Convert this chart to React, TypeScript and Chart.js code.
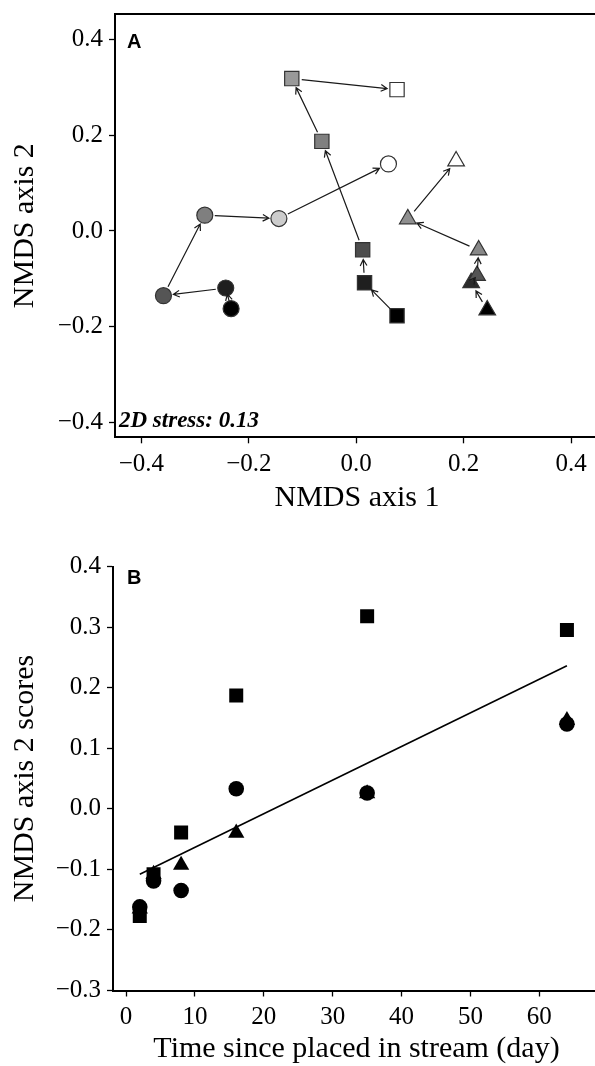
import { useEffect, useRef } from 'react';
import { Chart, registerables } from 'chart.js';

Chart.register(...registerables);

// ---- data ----
const days = [2, 4, 8, 16, 35, 64];
const circleAxis1 = [-0.233, -0.243, -0.359, -0.282, -0.144, 0.06];
const circleAxis2 = [-0.162, -0.119, -0.135, 0.033, 0.026, 0.14];
const squareAxis1 = [0.076, 0.0155, 0.012, -0.064, -0.12, 0.076];
const squareAxis2 = [-0.177, -0.108, -0.039, 0.187, 0.318, 0.295];
const triangleAxis1 = [0.244, 0.214, 0.225, 0.228, 0.096, 0.186];
const triangleAxis2 = [-0.165, -0.108, -0.093, -0.04, 0.025, 0.146];
const fitDays = [2, 64];
const fitScores = [-0.108, 0.236];

const axisATicks = [-0.4, -0.2, 0, 0.2, 0.4];
const scoreTicks = [-0.3, -0.2, -0.1, 0, 0.1, 0.2, 0.3, 0.4];
const dayTicks = [0, 10, 20, 30, 40, 50, 60];

const circleFill = ['#000000', '#1f1f1f', '#555555', '#7f7f7f', '#cccccc', '#ffffff'];
const squareFill = ['#000000', '#1f1f1f', '#4d4d4d', '#808080', '#999999', '#ffffff'];
const triangleFill = ['#000000', '#2b2b2b', '#555555', '#888888', '#8f8f8f', '#ffffff'];

const SERIF = '"Liberation Serif", "Times New Roman", serif';
const tickFont = { family: SERIF, size: 25 };
const titleFont = { family: SERIF, size: 30, lineHeight: 1.1 };

const fmt1 = (v: number) => (v < 0 ? '\u2212' + Math.abs(v).toFixed(1) : v.toFixed(1));

const pts = (xs: number[], ys: number[]) => xs.map((x, i) => ({ x, y: ys[i] }));

const arrowPlugin = {
  id: 'arrowsA',
  afterDatasetsDraw(chart: any) {
    const { ctx } = chart;
    const xs = chart.scales.x;
    const ys = chart.scales.y;
    const series = [
      [circleAxis1, circleAxis2],
      [squareAxis1, squareAxis2],
      [triangleAxis1, triangleAxis2],
    ];
    ctx.save();
    ctx.strokeStyle = '#1a1a1a';
    ctx.lineWidth = 1.2;
    for (const [a1, a2] of series) {
      for (let i = 0; i < a1.length - 1; i++) {
        const x0 = xs.getPixelForValue(a1[i]);
        const y0 = ys.getPixelForValue(a2[i]);
        const x1 = xs.getPixelForValue(a1[i + 1]);
        const y1 = ys.getPixelForValue(a2[i + 1]);
        const dx = x1 - x0;
        const dy = y1 - y0;
        const d = Math.hypot(dx, dy);
        const ux = dx / d;
        const uy = dy / d;
        const g = Math.min(10, d * 0.3);
        const sx = x0 + ux * g;
        const sy = y0 + uy * g;
        const ex = x1 - ux * g;
        const ey = y1 - uy * g;
        ctx.beginPath();
        ctx.moveTo(sx, sy);
        ctx.lineTo(ex, ey);
        const ang = Math.atan2(uy, ux);
        const hl = 7;
        const ha = 0.5;
        ctx.moveTo(ex - hl * Math.cos(ang - ha), ey - hl * Math.sin(ang - ha));
        ctx.lineTo(ex, ey);
        ctx.lineTo(ex - hl * Math.cos(ang + ha), ey - hl * Math.sin(ang + ha));
        ctx.stroke();
      }
    }
    ctx.restore();
  },
};

const frameAPlugin = {
  id: 'frameA',
  afterDraw(chart: any) {
    const { ctx, chartArea } = chart;
    ctx.save();
    ctx.strokeStyle = '#000';
    ctx.lineWidth = 2;
    ctx.beginPath();
    ctx.moveTo(chartArea.left - 1, chartArea.top);
    ctx.lineTo(chartArea.right, chartArea.top);
    ctx.lineTo(chartArea.right, chartArea.bottom);
    ctx.stroke();
    ctx.fillStyle = '#000';
    ctx.textBaseline = 'alphabetic';
    ctx.textAlign = 'left';
    ctx.font = 'bold 20px "Liberation Sans", Arial, sans-serif';
    ctx.fillText('A', 127, 48);
    ctx.font = 'italic bold 23px "Liberation Serif", serif';
    ctx.fillText('2D stress: 0.13', 119, 427);
    ctx.restore();
  },
};

const labelBPlugin = {
  id: 'labelB',
  afterDraw(chart: any) {
    const { ctx } = chart;
    ctx.save();
    ctx.fillStyle = '#000';
    ctx.textBaseline = 'alphabetic';
    ctx.textAlign = 'left';
    ctx.font = 'bold 20px "Liberation Sans", Arial, sans-serif';
    ctx.fillText('B', 127, 64);
    ctx.restore();
  },
};

const commonGrid = { drawOnChartArea: false, drawTicks: true, tickLength: 6, color: '#000', tickWidth: 1.3 };
const commonBorder = { display: true, color: '#000', width: 2 };

export default function App() {
  const refA = useRef<HTMLCanvasElement>(null);
  const refB = useRef<HTMLCanvasElement>(null);

  useEffect(() => {
    const markerBorder = '#333333';
    const chartA = new Chart(refA.current as HTMLCanvasElement, {
      type: 'scatter',
      data: {
        datasets: [
          {
            label: 'circles',
            data: pts(circleAxis1, circleAxis2),
            pointStyle: 'circle',
            pointRadius: 8,
            pointBackgroundColor: circleFill,
            pointBorderColor: markerBorder,
            pointBorderWidth: 1.2,
          },
          {
            label: 'triangles',
            data: pts(triangleAxis1, triangleAxis2),
            pointStyle: 'triangle',
            pointRadius: 9.6,
            pointBackgroundColor: triangleFill,
            pointBorderColor: markerBorder,
            pointBorderWidth: 1.2,
          },
          {
            label: 'squares',
            data: pts(squareAxis1, squareAxis2),
            pointStyle: 'rect',
            pointRadius: 10.1,
            pointBackgroundColor: squareFill,
            pointBorderColor: markerBorder,
            pointBorderWidth: 1.2,
          },
        ],
      },
      options: {
        responsive: false,
        animation: false,
        devicePixelRatio: 1,
        events: [],
        layout: { autoPadding: false, padding: { top: 14, right: 1, left: 0, bottom: 0 } },
        plugins: { legend: { display: false }, tooltip: { enabled: false } },
        scales: {
          x: {
            type: 'linear',
            min: -0.4492,
            max: 0.4521,
            afterBuildTicks: (s: any) => {
              s.ticks = axisATicks.map((v) => ({ value: v }));
            },
            afterFit: (s: any) => {
              s.height = 520 - 437.3;
              s.paddingLeft = 0;
              s.paddingRight = 0;
            },
            ticks: { font: tickFont, color: '#000', padding: 6, maxRotation: 0, autoSkip: false, callback: (v: any) => fmt1(Number(v)) },
            grid: commonGrid,
            border: commonBorder,
            title: { display: true, text: 'NMDS axis 1', font: titleFont, color: '#000', padding: { top: 0, bottom: 5.5 } },
          },
          y: {
            type: 'linear',
            min: -0.4305,
            max: 0.4528,
            afterBuildTicks: (s: any) => {
              s.ticks = axisATicks.map((v) => ({ value: v }));
            },
            afterFit: (s: any) => {
              s.width = 115;
              s.paddingTop = 0;
              s.paddingBottom = 0;
            },
            ticks: { font: tickFont, color: '#000', padding: 6, autoSkip: false, callback: (v: any) => fmt1(Number(v)) },
            grid: commonGrid,
            border: commonBorder,
            title: { display: true, text: 'NMDS axis 2', font: titleFont, color: '#000', padding: { top: 8.5, bottom: 0 } },
          },
        },
      },
      plugins: [arrowPlugin, frameAPlugin],
    } as any);

    const chartB = new Chart(refB.current as HTMLCanvasElement, {
      type: 'scatter',
      data: {
        datasets: [
          {
            label: 'circles',
            data: pts(days, circleAxis2),
            pointStyle: 'circle',
            pointRadius: 7.8,
            pointBackgroundColor: '#000',
            pointBorderColor: '#000',
            pointBorderWidth: 0,
          },
          {
            label: 'triangles',
            data: pts(days, triangleAxis2),
            pointStyle: 'triangle',
            pointRadius: 9.4,
            pointBackgroundColor: '#000',
            pointBorderColor: '#000',
            pointBorderWidth: 0,
          },
          {
            label: 'squares',
            data: pts(days, squareAxis2),
            pointStyle: 'rect',
            pointRadius: 9.9,
            pointBackgroundColor: '#000',
            pointBorderColor: '#000',
            pointBorderWidth: 0,
          },
          {
            type: 'line',
            label: 'fit',
            data: pts(fitDays, fitScores),
            showLine: true,
            pointRadius: 0,
            borderColor: '#000',
            borderWidth: 1.6,
            fill: false,
          },
        ],
      },
      options: {
        responsive: false,
        animation: false,
        devicePixelRatio: 1,
        events: [],
        layout: { autoPadding: false, padding: { top: 46.5, right: 0, left: 0, bottom: 0 } },
        plugins: { legend: { display: false }, tooltip: { enabled: false } },
        scales: {
          x: {
            type: 'linear',
            min: -1.887,
            max: 68.8,
            afterBuildTicks: (s: any) => {
              s.ticks = dayTicks.map((v) => ({ value: v }));
            },
            afterFit: (s: any) => {
              s.height = 75.5;
              s.paddingLeft = 0;
              s.paddingRight = 0;
            },
            ticks: { font: tickFont, color: '#000', padding: 6, maxRotation: 0, autoSkip: false, callback: (v: any) => String(Math.round(Number(v))) },
            grid: commonGrid,
            border: commonBorder,
            title: { display: true, text: 'Time since placed in stream (day)', font: titleFont, color: '#000', padding: { top: 0, bottom: 0 } },
          },
          y: {
            type: 'linear',
            min: -0.3,
            max: 0.4,
            afterBuildTicks: (s: any) => {
              s.ticks = scoreTicks.map((v) => ({ value: v }));
            },
            afterFit: (s: any) => {
              s.width = 113;
              s.paddingTop = 0;
              s.paddingBottom = 0;
            },
            ticks: { font: tickFont, color: '#000', padding: 6, autoSkip: false, callback: (v: any) => fmt1(Number(v)) },
            grid: commonGrid,
            border: commonBorder,
            title: { display: true, text: 'NMDS axis 2 scores', font: titleFont, color: '#000', padding: { top: 8.5, bottom: 0 } },
          },
        },
      },
      plugins: [labelBPlugin],
    } as any);

    return () => {
      chartA.destroy();
      chartB.destroy();
    };
  }, []);

  return (
    <div style={{ position: 'absolute', left: 0, top: 0, width: 595, height: 1066, overflow: 'hidden', background: '#fff' }}>
      <canvas ref={refA} width={600} height={520} style={{ position: 'absolute', left: 0, top: 0, width: 600, height: 520, display: 'block' }} />
      <canvas ref={refB} width={600} height={546} style={{ position: 'absolute', left: 0, top: 520, width: 600, height: 546, display: 'block' }} />
    </div>
  );
}
